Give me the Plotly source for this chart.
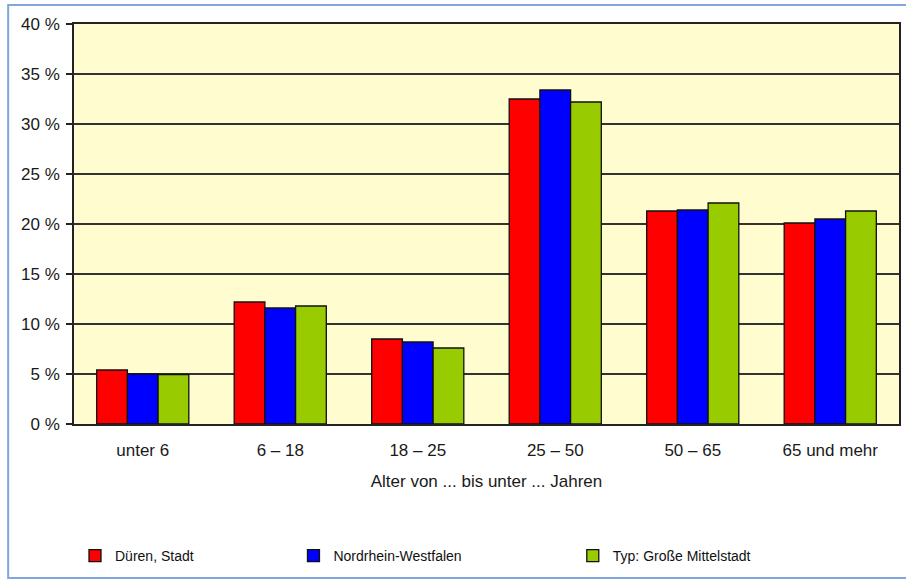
import plotly.graph_objects as go

categories = ["unter 6", "6 – 18", "18 – 25", "25 – 50", "50 – 65", "65 und mehr"]
dueren = [5.4, 12.2, 8.5, 32.5, 21.3, 20.1]
nrw = [5.0, 11.6, 8.2, 33.4, 21.4, 20.5]
mittelstadt = [4.95, 11.8, 7.6, 32.2, 22.1, 21.3]
series_names = ["Düren, Stadt", "Nordrhein-Westfalen", "Typ: Große Mittelstadt"]
y_ticks = [0, 5, 10, 15, 20, 25, 30, 35, 40]
y_tick_labels = ["0 %", "5 %", "10 %", "15 %", "20 %", "25 %", "30 %", "35 %", "40 %"]

colors = ["#FF0000", "#0000FF", "#99CC00"]
legends = ["legend", "legend2", "legend3"]

fig = go.Figure()
for vals, name, col, lg in zip([dueren, nrw, mittelstadt], series_names, colors, legends):
    fig.add_trace(go.Bar(
        x=categories, y=vals, name=name, legend=lg,
        marker=dict(color=col, line=dict(color="#111111", width=1.3)),
        hoverinfo="x+y+name",
    ))

W, H = 906, 581
L, R, T, B = 74, 5, 24, 157
pw, ph = W - L - R, H - T - B

def px_x(p):
    return (p - L) / pw

def px_y(p):
    return (H - B - p) / ph

legend_font = dict(family="Liberation Sans, Arial, sans-serif", size=14, color="#111111")
legend_common = dict(orientation="h", yanchor="middle", xanchor="left",
                     font=legend_font, bgcolor="rgba(0,0,0,0)", itemwidth=30,
                     tracegroupgap=0, borderwidth=0)

fig.update_layout(
    width=W, height=H,
    margin=dict(l=L, r=R, t=T, b=B),
    paper_bgcolor="white",
    plot_bgcolor="#FFFDD0",
    barmode="group",
    bargap=0.33,
    bargroupgap=0,
    font=dict(family="Liberation Sans, Arial, sans-serif", size=17, color="#1a1a1a"),
    xaxis=dict(
        showgrid=False, showline=True, linecolor="#222222", linewidth=1.5, mirror=True,
        ticks="", ticklabelstandoff=10,
        tickfont=dict(size=17, color="#1a1a1a"),
        title=dict(text="Alter von ... bis unter ... Jahren", standoff=16,
                   font=dict(size=17, color="#1a1a1a")),
    ),
    yaxis=dict(
        range=[0, 40], tickvals=y_ticks, ticktext=y_tick_labels,
        showgrid=True, gridcolor="#333333", gridwidth=1.5,
        showline=True, linecolor="#222222", linewidth=1.5, mirror=True,
        ticks="outside", ticklen=6, tickcolor="#222222", tickwidth=1.5,
        ticklabelstandoff=3,
        tickfont=dict(size=17, color="#1a1a1a"),
        zeroline=False,
    ),
    legend=dict(x=px_x(75), y=px_y(556), **legend_common),
    legend2=dict(x=px_x(294), y=px_y(556), **legend_common),
    legend3=dict(x=px_x(574), y=px_y(556), **legend_common),
    showlegend=True,
)

fig.add_shape(type="rect", xref="paper", yref="paper",
              x0=px_x(8), x1=px_x(910), y0=px_y(578), y1=px_y(5),
              line=dict(color="#7FA7DB", width=2), fillcolor="rgba(0,0,0,0)", layer="below")

fig.write_html("out.html")
